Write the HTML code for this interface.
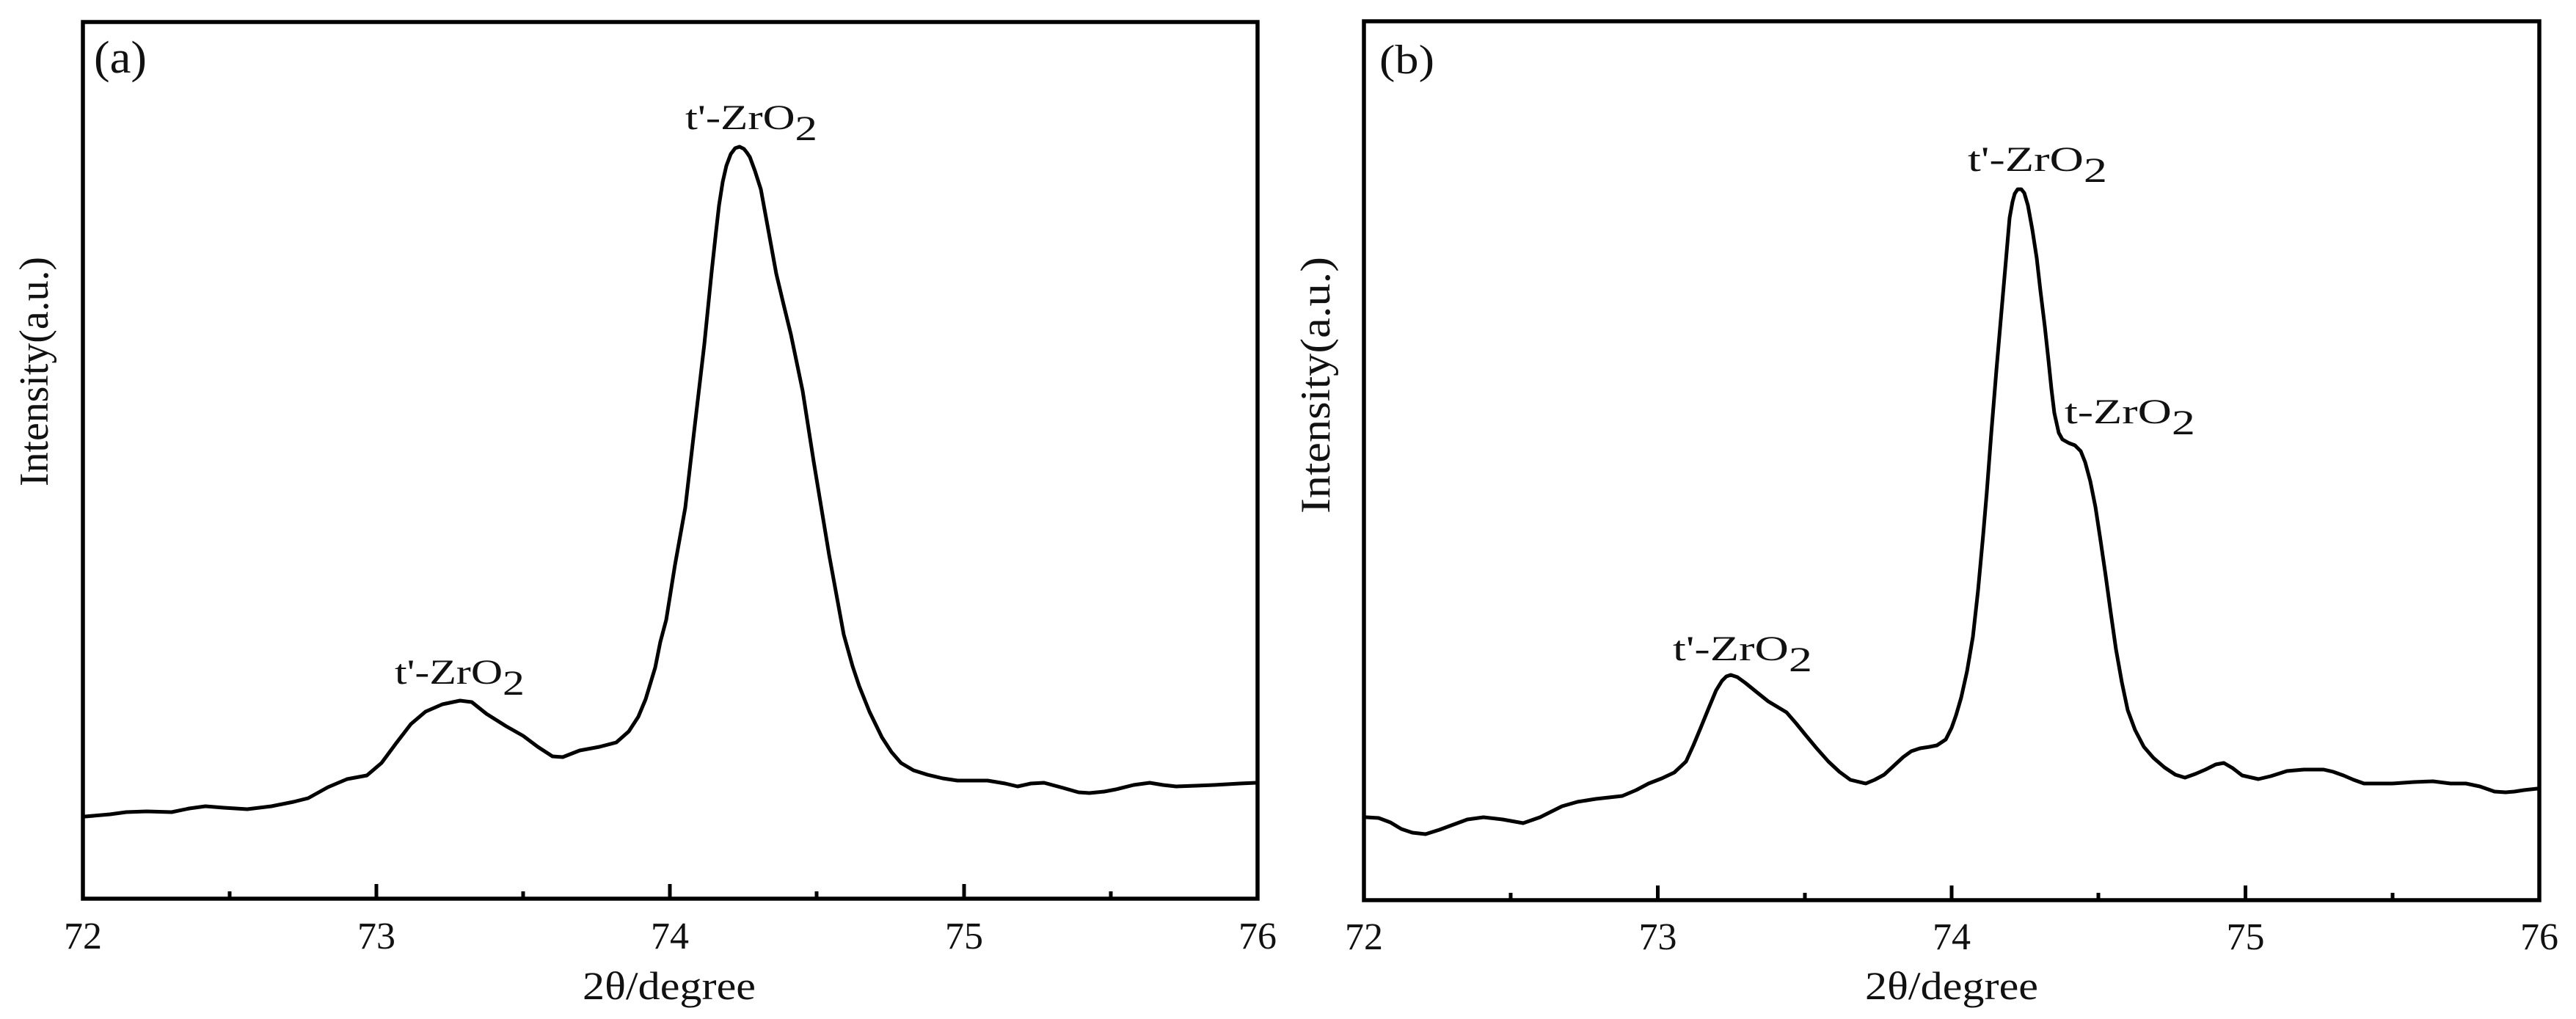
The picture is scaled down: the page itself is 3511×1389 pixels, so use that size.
<!DOCTYPE html>
<html>
<head>
<meta charset="utf-8">
<style>
html,body{margin:0;padding:0;background:#fff;}
svg{display:block;}
text{font-family:"Liberation Serif","DejaVu Serif",serif;fill:#111;}
</style>
</head>
<body>
<svg width="3511" height="1389" viewBox="0 0 3511 1389" xmlns="http://www.w3.org/2000/svg">
<rect x="0" y="0" width="3511" height="1389" fill="#fff"/>

<!-- ===== Panel (a) ===== -->
<rect x="113" y="30" width="1601" height="1195" fill="none" stroke="#000" stroke-width="5.5"/>
<g stroke="#000" stroke-width="5">
  <line x1="513" y1="1225" x2="513" y2="1205"/>
  <line x1="913" y1="1225" x2="913" y2="1205"/>
  <line x1="1314" y1="1225" x2="1314" y2="1205"/>
  <line x1="313" y1="1225" x2="313" y2="1215"/>
  <line x1="713" y1="1225" x2="713" y2="1215"/>
  <line x1="1113" y1="1225" x2="1113" y2="1215"/>
  <line x1="1514" y1="1225" x2="1514" y2="1215"/>
</g>
<g font-size="52" text-anchor="middle">
  <text x="113" y="1293">72</text>
  <text x="513" y="1293">73</text>
  <text x="913" y="1293">74</text>
  <text x="1314" y="1293">75</text>
  <text x="1714" y="1293">76</text>
</g>
<text x="794" y="1362" font-size="54" textLength="236" lengthAdjust="spacingAndGlyphs">2θ/degree</text>
<text transform="translate(65,663) rotate(-90)" font-size="56" textLength="313" lengthAdjust="spacingAndGlyphs">Intensity(a.u.)</text>
<text x="128" y="99" font-size="62" textLength="72" lengthAdjust="spacingAndGlyphs">(a)</text>

<polyline fill="none" stroke="#000" stroke-width="5" stroke-linejoin="round" stroke-linecap="round" points="
116,1113 150,1110 172,1107 200,1106 234,1107 258,1102 280,1099 305,1101 337,1103 370,1099 400,1093
420,1088 447,1073 473,1062 500,1057 520,1040 540,1013 560,987 580,970 603,960 627,955 643,957 663,973
690,990 713,1003 733,1018 753,1031 767,1032 790,1023 817,1018 840,1012 857,997 870,977 880,953 893,910
900,875 908,845 920,770 934,692 947,580 960,469 970,370 976,315 980,280 985,248 990,226 996,210 1002,202
1008,200 1014,203 1018,208 1022,214 1029,233 1037,258 1048,318 1058,373 1068,415 1078,456 1094,533
1109,629 1130,756 1150,865 1162,908 1171,935 1185,970 1202,1005 1215,1025 1228,1040 1245,1050 1264,1056
1285,1061 1305,1064 1346,1064 1370,1068 1387,1072 1405,1068 1423,1067 1449,1074 1470,1080 1485,1081
1505,1079 1521,1076 1545,1070 1567,1067 1585,1070 1603,1072 1630,1071 1655,1070 1690,1068 1712,1067"/>

<text x="934" y="176" font-size="48" textLength="180" lengthAdjust="spacingAndGlyphs">t'-ZrO<tspan dy="15">2</tspan></text>
<text x="538" y="932" font-size="48" textLength="177" lengthAdjust="spacingAndGlyphs">t'-ZrO<tspan dy="15">2</tspan></text>

<!-- ===== Panel (b) ===== -->
<rect x="1859" y="29" width="1602" height="1198" fill="none" stroke="#000" stroke-width="5.5"/>
<g stroke="#000" stroke-width="5">
  <line x1="2259.5" y1="1227" x2="2259.5" y2="1207"/>
  <line x1="2660" y1="1227" x2="2660" y2="1207"/>
  <line x1="3060.5" y1="1227" x2="3060.5" y2="1207"/>
  <line x1="2059" y1="1227" x2="2059" y2="1217"/>
  <line x1="2460" y1="1227" x2="2460" y2="1217"/>
  <line x1="2860" y1="1227" x2="2860" y2="1217"/>
  <line x1="3261" y1="1227" x2="3261" y2="1217"/>
</g>
<g font-size="52" text-anchor="middle">
  <text x="1859" y="1294">72</text>
  <text x="2259.5" y="1294">73</text>
  <text x="2660" y="1294">74</text>
  <text x="3060.5" y="1294">75</text>
  <text x="3461" y="1294">76</text>
</g>
<text x="2542" y="1362" font-size="54" textLength="236" lengthAdjust="spacingAndGlyphs">2θ/degree</text>
<text transform="translate(1812,700) rotate(-90)" font-size="57" textLength="350" lengthAdjust="spacingAndGlyphs">Intensity(a.u.)</text>
<text x="1880" y="100" font-size="56" textLength="75" lengthAdjust="spacingAndGlyphs">(b)</text>

<polyline fill="none" stroke="#000" stroke-width="5" stroke-linejoin="round" stroke-linecap="round" points="
1862,1114 1879,1115 1895,1121 1910,1130 1925,1135 1943,1137 1962,1131 1981,1124 2000,1117 2022,1114
2048,1117 2076,1122 2099,1114 2129,1099 2150,1093 2175,1089 2211,1085 2230,1077 2247,1068 2265,1061
2282,1053 2298,1038 2308,1016 2318,992 2329,965 2339,941 2347,928 2353,922 2359,920 2368,923 2379,931
2395,944 2410,956 2425,965 2435,971 2448,986 2461,1002 2476,1020 2492,1038 2507,1052 2522,1063
2543,1068 2555,1063 2568,1056 2581,1044 2594,1032 2605,1024 2617,1020 2630,1018 2640,1016 2652,1008
2660,992 2666,975 2673,951 2681,915 2689,868 2696,805 2703,729 2708,670 2714,591 2721,505 2728,424
2734,355 2739,297 2743,275 2746,264 2750,258 2755,258 2759,263 2764,280 2770,313 2776,352 2781,396
2787,445 2792,491 2796,530 2800,563 2806,590 2811,599 2820,604 2828,607 2836,615 2842,630 2849,656
2856,691 2863,737 2870,785 2877,836 2884,885 2892,930 2900,968 2910,995 2922,1018 2935,1033
2950,1046 2965,1056 2978,1060 2992,1055 3006,1049 3020,1042 3031,1040 3043,1047 3056,1057 3078,1062
3095,1058 3117,1051 3140,1049 3167,1049 3180,1052 3194,1057 3208,1063 3222,1068 3240,1068 3261,1068
3290,1066 3316,1065 3340,1068 3361,1068 3380,1072 3400,1079 3415,1080 3427,1079 3440,1077 3458,1075"/>

<text x="2682" y="233" font-size="48" textLength="190" lengthAdjust="spacingAndGlyphs">t'-ZrO<tspan dy="15">2</tspan></text>
<text x="2280" y="900" font-size="48" textLength="190" lengthAdjust="spacingAndGlyphs">t'-ZrO<tspan dy="15">2</tspan></text>
<text x="2814" y="577" font-size="48" textLength="178" lengthAdjust="spacingAndGlyphs">t-ZrO<tspan dy="15">2</tspan></text>

</svg>
</body>
</html>
